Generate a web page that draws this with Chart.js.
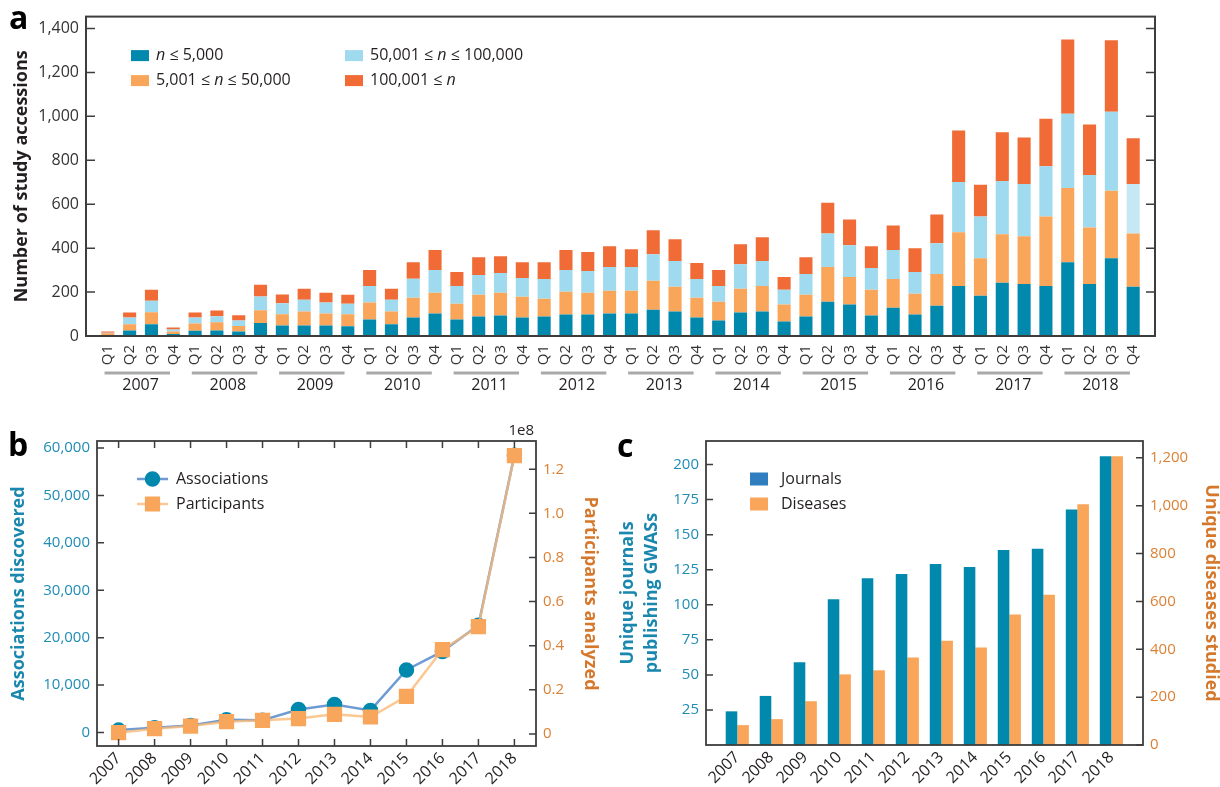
<!DOCTYPE html>
<html>
<head>
<meta charset="utf-8">
<script src="https://cdn.jsdelivr.net/npm/chart.js"></script>
<style>
  body { margin: 0; background: #fff; }
  #wrap { position: relative; width: 1220px; height: 787px; }
  .panel { position: absolute; }
</style>
</head>
<body>
<div id="wrap">
  <div class="panel" style="left:0;top:0;width:1220px;height:400px"><canvas id="chartA"></canvas></div>
  <div class="panel" style="left:0;top:420px;width:610px;height:367px"><canvas id="chartB"></canvas></div>
  <div class="panel" style="left:610px;top:420px;width:610px;height:367px"><canvas id="chartC"></canvas></div>
</div>
<script>
// ---- data ----
const years = [2007, 2008, 2009, 2010, 2011, 2012, 2013, 2014, 2015, 2016, 2017, 2018];
const quarterLabels = years.flatMap(() => ['Q1', 'Q2', 'Q3', 'Q4']);

// panel a: study accessions per quarter, by sample size
const upTo5k = [5, 25, 54, 9, 24, 25, 21, 59, 48, 48, 48, 44, 75, 53, 84, 102,
  75, 89, 93, 84, 89, 98, 98, 102, 102, 120, 111, 84, 71, 107, 111, 66,
  89, 156, 143, 93, 129, 98, 138, 228, 183, 242, 237, 228, 336, 237, 354, 224];
const upTo50k = [7, 29, 54, 12, 33, 38, 24, 58, 51, 63, 54, 55, 77, 58, 90, 95,
  72, 99, 104, 95, 81, 103, 99, 104, 104, 131, 113, 90, 85, 108, 117, 77,
  99, 158, 126, 117, 131, 94, 144, 244, 171, 221, 217, 316, 338, 257, 307, 243];
const upTo100k = [3, 30, 53, 9, 27, 27, 26, 63, 50, 54, 50, 48, 76, 54, 87, 103,
  81, 90, 90, 85, 90, 99, 99, 108, 108, 121, 117, 86, 72, 112, 113, 67,
  94, 153, 144, 99, 131, 99, 140, 229, 190, 243, 238, 229, 338, 239, 360, 225];
const over100k = [6, 23, 49, 9, 23, 26, 24, 53, 40, 50, 45, 41, 72, 50, 75, 91,
  63, 81, 76, 72, 76, 91, 86, 94, 81, 109, 99, 72, 72, 91, 108, 59,
  77, 140, 117, 99, 112, 108, 131, 235, 144, 221, 212, 216, 338, 230, 325, 208];
const accessionTicks = [0, 200, 400, 600, 800, 1000, 1200, 1400];

// panel b
const associations = [500, 1000, 1500, 2700, 2600, 4850, 5900, 4650, 13200, 17100, 22600, 58500];
const participants = [0.6e6, 2.4e6, 3.6e6, 5.6e6, 6.2e6, 7.0e6, 8.9e6, 7.7e6, 17.1e6, 38.2e6, 48.7e6, 126.2e6];
const associationTicks = [0, 10000, 20000, 30000, 40000, 50000, 60000];
const participantTicks = [0, 2e7, 4e7, 6e7, 8e7, 10e7, 12e7];

// panel c
const journals = [24, 35, 59, 104, 119, 122, 129, 127, 139, 140, 168, 206];
const diseases = [83, 108, 183, 295, 312, 366, 436, 407, 545, 628, 1006, 1206];
const journalTicks = [25, 50, 75, 100, 125, 150, 175, 200];
const diseaseTicks = [0, 200, 400, 600, 800, 1000, 1200];

// ---- styling ----
const FAMILY = '"Open Sans", "DejaVu Sans", sans-serif';
Chart.defaults.font.family = FAMILY;
Chart.defaults.color = '#231f20';

const teal = '#0088ad';
const orange = '#f9a65a';
const lightBlue = '#a0daee';
const paleBlue = '#c6e8f4';
const red = '#f06b35';
const tealText = '#1f8db4';
const orangeText = '#dc8034';

// box around the plot with inward tick marks
const framePlugin = {
  id: 'frame',
  afterDraw(chart, args, o) {
    const { ctx, chartArea: a } = chart;
    ctx.save();
    ctx.strokeStyle = o.color;
    ctx.lineWidth = o.width;
    ctx.strokeRect(a.left, a.top, a.right - a.left, a.bottom - a.top);
    ctx.lineWidth = o.tickWidth;
    ctx.beginPath();
    const each = (id, fn) => {
      const s = chart.scales[id];
      if (!s) return;
      s.ticks.forEach(t => fn(s.getPixelForValue(t.value)));
    };
    const len = o.tickLength;
    if (o.left) each(o.left, y => { ctx.moveTo(a.left, y); ctx.lineTo(a.left + len, y); });
    if (o.right) each(o.right, y => { ctx.moveTo(a.right, y); ctx.lineTo(a.right - len, y); });
    if (o.top) each(o.top, x => { ctx.moveTo(x, a.top); ctx.lineTo(x, a.top + len); });
    if (o.bottom) each(o.bottom, x => { ctx.moveTo(x, a.bottom); ctx.lineTo(x, a.bottom - len); });
    ctx.stroke();
    ctx.restore();
  }
};

// legend drawn inside the plot area
const keyPlugin = {
  id: 'key',
  afterDraw(chart, args, o) {
    const { ctx, chartArea: a } = chart;
    ctx.save();
    ctx.textBaseline = 'middle';
    chart.data.datasets.forEach((ds, i) => {
      const x = a.left + o.spots[i][0];
      const y = a.top + o.spots[i][1];
      if (o.swatch === 'line') {
        ctx.strokeStyle = ds.borderColor;
        ctx.lineWidth = ds.borderWidth;
        ctx.beginPath();
        ctx.moveTo(x, y);
        ctx.lineTo(x + o.swatchW, y);
        ctx.stroke();
        ctx.fillStyle = ds.pointBackgroundColor;
        ctx.strokeStyle = ds.pointBorderColor;
        Chart.helpers.drawPoint(ctx, { pointStyle: ds.pointStyle, radius: ds.pointRadius, borderWidth: 1 }, x + o.swatchW / 2, y);
      } else {
        const bg = ds.keyColor || (Array.isArray(ds.backgroundColor) ? ds.backgroundColor[0] : ds.backgroundColor);
        ctx.fillStyle = bg;
        ctx.fillRect(x, y - o.swatchH / 2, o.swatchW, o.swatchH);
      }
      let tx = x + o.textGap;
      const parts = o.italicN ? ds.label.split(/(\bn\b)/) : [ds.label];
      parts.forEach(p => {
        if (!p) return;
        ctx.font = (o.italicN && p === 'n' ? 'italic ' : '') + o.fontSize + 'px ' + FAMILY;
        ctx.fillStyle = '#231f20';
        ctx.fillText(p, tx, y);
        tx += ctx.measureText(p).width;
      });
    });
    ctx.restore();
  }
};

// loose texts: panel letters, offset label
const notesPlugin = {
  id: 'notes',
  afterDraw(chart, args, o) {
    const { ctx, chartArea: a } = chart;
    ctx.save();
    o.items.forEach(it => {
      ctx.font = it.font;
      ctx.fillStyle = it.color || '#000';
      ctx.textAlign = it.align || 'left';
      ctx.textBaseline = 'alphabetic';
      const x = it.fromRight ? a.right + it.x : it.x;
      const y = it.fromTop ? a.top + it.y : it.y;
      ctx.fillText(it.text, x, y);
    });
    ctx.restore();
  }
};

// grey rule under each group of four quarters
const yearRulePlugin = {
  id: 'yearRule',
  afterDraw(chart) {
    const { ctx } = chart;
    const xs = chart.scales.x, ys = chart.scales.years;
    ctx.save();
    ctx.strokeStyle = '#a9a9a9';
    ctx.lineWidth = 3;
    ctx.beginPath();
    years.forEach((y, i) => {
      const yy = ys.top + 5;
      ctx.moveTo(xs.getPixelForValue(4 * i - 0.15), yy);
      ctx.lineTo(xs.getPixelForValue(4 * i + 2.85), yy);
    });
    ctx.stroke();
    ctx.restore();
  }
};

const noGrid = { display: false, drawTicks: false };
const noBorder = { display: false };
const tickSet = vals => s => { s.ticks = vals.map(v => ({ value: v })); };

// ---- panel a ----
new Chart(document.getElementById('chartA'), {
  type: 'bar',
  data: {
    labels: quarterLabels.map((_, i) => i),
    datasets: [
      { label: 'n ≤ 5,000', data: upTo5k, backgroundColor: teal, xAxisID: 'x' },
      { label: '5,001 ≤ n ≤ 50,000', data: upTo50k, backgroundColor: orange, xAxisID: 'x' },
      { label: '50,001 ≤ n ≤ 100,000', data: upTo100k, xAxisID: 'x',
        backgroundColor: upTo100k.map((_, i) => i === upTo100k.length - 1 ? paleBlue : lightBlue) },
      { label: '100,001 ≤ n', data: over100k, backgroundColor: red, xAxisID: 'x' }
    ]
  },
  options: {
    responsive: true,
    maintainAspectRatio: false,
    animation: false,
    devicePixelRatio: 1,
    layout: { padding: { top: 13, right: 65, left: 0, bottom: 0 } },
    datasets: { bar: { barPercentage: 0.6, categoryPercentage: 1, borderWidth: 0 } },
    scales: {
      x: {
        type: 'linear', axis: 'x', position: 'bottom', weight: 0, offset: false,
        min: -1, max: 48, stacked: true,
        grid: noGrid, border: noBorder,
        afterBuildTicks: tickSet(quarterLabels.map((_, i) => i)),
        ticks: { autoSkip: false, minRotation: 90, maxRotation: 90, padding: 9,
          font: { size: 15 }, color: '#333', callback: (v, i) => quarterLabels[i] },
        afterFit: s => { s.height = 32; }
      },
      years: {
        type: 'linear', axis: 'x', position: 'bottom', weight: 1, offset: false,
        min: -1, max: 48,
        grid: noGrid, border: noBorder,
        afterBuildTicks: tickSet(years.map((_, i) => 4 * i + 1.5)),
        ticks: { autoSkip: false, minRotation: 0, maxRotation: 0, padding: 8,
          font: { size: 16 }, color: '#231f20', callback: (v, i) => String(years[i]) },
        afterFit: s => { s.height = 32; }
      },
      y: {
        stacked: true, min: 0, max: 1454,
        grid: noGrid, border: noBorder,
        afterBuildTicks: tickSet(accessionTicks),
        ticks: { padding: 7, font: { size: 16 }, color: '#333' },
        title: { display: true, text: 'Number of study accessions', color: '#231f20',
          font: { size: 18, weight: 'bold' }, padding: { top: 11, bottom: 0 } },
        afterFit: s => { s.width = 86; }
      }
    },
    plugins: {
      legend: { display: false },
      tooltip: { enabled: false },
      frame: { color: '#3d3d3d', width: 2, tickWidth: 1.5, tickLength: 9, left: 'y', right: 'y' },
      key: { spots: [[45, 39], [45, 64], [259, 39], [259, 64]], swatchW: 18, swatchH: 11,
        textGap: 25, fontSize: 16, italicN: true },
      notes: { items: [{ text: 'a', x: 9, y: 29, font: 'bold 32px ' + FAMILY }] }
    }
  },
  plugins: [framePlugin, keyPlugin, notesPlugin, yearRulePlugin]
});

// ---- panel b ----
new Chart(document.getElementById('chartB'), {
  type: 'line',
  data: {
    labels: years,
    datasets: [
      { label: 'Associations', data: associations, yAxisID: 'y', order: 1,
        borderColor: '#6f9bd3', borderWidth: 2.5, tension: 0,
        pointStyle: 'circle', pointRadius: 6.5, pointBackgroundColor: teal, pointBorderColor: teal },
      { label: 'Participants', data: participants, yAxisID: 'y1', order: 0,
        borderColor: 'rgba(250, 184, 118, 0.78)', borderWidth: 2.5, tension: 0,
        pointStyle: 'rect', pointRadius: 9, pointBackgroundColor: '#f8a65c', pointBorderColor: '#f8a65c' }
    ]
  },
  options: {
    responsive: true,
    maintainAspectRatio: false,
    animation: false,
    devicePixelRatio: 1,
    layout: { padding: { top: 21, right: 0, left: 0, bottom: 0 } },
    scales: {
      x: {
        type: 'linear', min: 2006.4, max: 2018.6, offset: false,
        grid: noGrid, border: noBorder,
        afterBuildTicks: tickSet(years),
        ticks: { autoSkip: false, minRotation: 45, maxRotation: 45, padding: 3,
          font: { size: 16 }, color: '#231f20', callback: v => String(v) },
        afterFit: s => { s.height = 41; }
      },
      y: {
        position: 'left', min: -2850, max: 61480,
        grid: noGrid, border: noBorder,
        afterBuildTicks: tickSet(associationTicks),
        ticks: { padding: 7, font: { size: 15 }, color: tealText },
        title: { display: true, text: 'Associations discovered', color: '#1a87ae',
          font: { size: 18, weight: 'bold' }, padding: { top: 8, bottom: 0 } },
        afterFit: s => { s.width = 97; }
      },
      y1: {
        position: 'right', min: -5.44e6, max: 1.328e8,
        grid: noGrid, border: noBorder,
        afterBuildTicks: tickSet(participantTicks),
        ticks: { padding: 7, font: { size: 15 }, color: orangeText,
          callback: v => v === 0 ? '0' : (v / 1e8).toFixed(1) },
        title: { display: true, text: 'Participants analyzed', color: '#d5782c',
          font: { size: 18, weight: 'bold' }, padding: { top: 9, bottom: 0 } },
        afterFit: s => { s.width = 74; }
      }
    },
    plugins: {
      legend: { display: false },
      tooltip: { enabled: false },
      frame: { color: '#3d3d3d', width: 1.8, tickWidth: 1.5, tickLength: 7,
        left: 'y', right: 'y1', top: 'x', bottom: 'x' },
      key: { spots: [[40, 38], [40, 63]], swatch: 'line', swatchW: 31, textGap: 39, fontSize: 16 },
      notes: { items: [
        { text: 'b', x: 8, y: 36, font: 'bold 32px ' + FAMILY },
        { text: '1e8', x: -2, y: -6, fromRight: true, fromTop: true, align: 'right', font: '15px ' + FAMILY, color: '#231f20' }
      ] }
    }
  },
  plugins: [framePlugin, keyPlugin, notesPlugin]
});

// ---- panel c ----
new Chart(document.getElementById('chartC'), {
  type: 'bar',
  data: {
    labels: years,
    datasets: [
      { label: 'Journals', data: journals, yAxisID: 'y', backgroundColor: teal, keyColor: '#2f7fc0' },
      { label: 'Diseases', data: diseases, yAxisID: 'y1', backgroundColor: orange }
    ]
  },
  options: {
    responsive: true,
    maintainAspectRatio: false,
    animation: false,
    devicePixelRatio: 1,
    layout: { padding: { top: 21, right: 0, left: 0, bottom: 0 } },
    datasets: { bar: { categoryPercentage: 0.68, barPercentage: 1, borderWidth: 0 } },
    scales: {
      x: {
        type: 'linear', min: 2006.08, max: 2018.93, offset: false,
        grid: noGrid, border: noBorder,
        afterBuildTicks: tickSet(years),
        ticks: { autoSkip: false, minRotation: 45, maxRotation: 45, padding: 3,
          font: { size: 16 }, color: '#231f20', callback: v => String(v) },
        afterFit: s => { s.height = 42; }
      },
      y: {
        position: 'left', min: 0, max: 216.8,
        grid: noGrid, border: noBorder,
        afterBuildTicks: tickSet(journalTicks),
        ticks: { padding: 7, font: { size: 15 }, color: tealText },
        title: { display: true, text: ['Unique journals', 'publishing GWASs'], color: '#1a87ae',
          font: { size: 18, weight: 'bold', lineHeight: 1.33 }, padding: { top: 6, bottom: 0 } },
        afterFit: s => { s.width = 96; }
      },
      y1: {
        position: 'right', min: 0, max: 1270,
        grid: noGrid, border: noBorder,
        afterBuildTicks: tickSet(diseaseTicks),
        ticks: { padding: 7, font: { size: 15 }, color: orangeText },
        title: { display: true, text: 'Unique diseases studied', color: '#d5782c',
          font: { size: 18, weight: 'bold', lineHeight: 1 }, padding: { top: 0, bottom: 0 } },
        afterFit: s => { s.width = 77; }
      }
    },
    plugins: {
      legend: { display: false },
      tooltip: { enabled: false },
      frame: { color: '#3d3d3d', width: 1.8, tickWidth: 1.5, tickLength: 7, left: 'y', right: 'y1' },
      key: { spots: [[44, 38], [44, 63]], swatchW: 18, swatchH: 13, textGap: 31, fontSize: 16 },
      notes: { items: [{ text: 'c', x: 7, y: 37, font: 'bold 32px ' + FAMILY }] }
    }
  },
  plugins: [framePlugin, keyPlugin, notesPlugin]
});
</script>
</body>
</html>
